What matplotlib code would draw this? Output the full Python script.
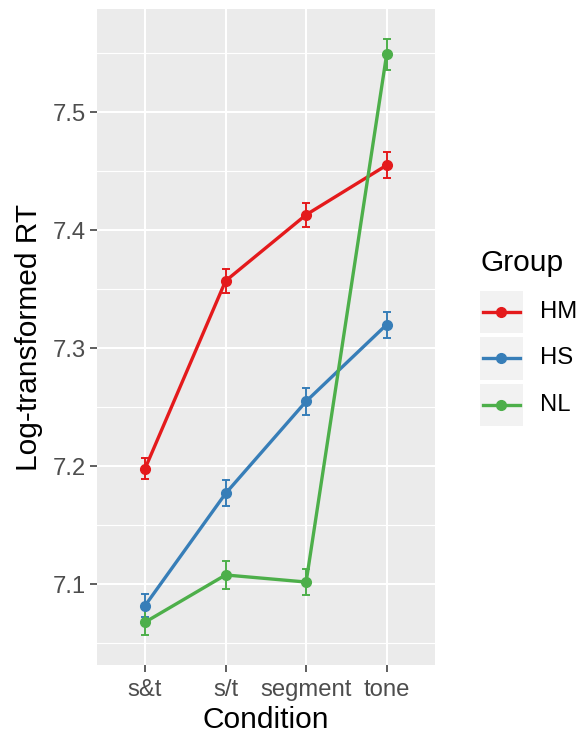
import matplotlib.pyplot as plt
import numpy as np
from matplotlib.patches import Rectangle

plt.rcParams['font.family'] = ['Liberation Sans', 'DejaVu Sans']

conditions = ['s&t', 's/t', 'segment', 'tone']
groups = ['HM', 'HS', 'NL']
colors = ['#E41A1C', '#377EB8', '#4DAF4A']

# mean log RT and standard error per group, one value per condition
hm_mean = [7.198, 7.357, 7.413, 7.455]
hm_se = [0.009, 0.010, 0.010, 0.011]
hs_mean = [7.082, 7.177, 7.255, 7.320]
hs_se = [0.010, 0.011, 0.0115, 0.011]
nl_mean = [7.068, 7.108, 7.102, 7.549]
nl_se = [0.011, 0.012, 0.011, 0.013]

means = [hm_mean, hs_mean, nl_mean]
errors = [hm_se, hs_se, nl_se]

W, H = 583, 736
fig = plt.figure(figsize=(W / 100, H / 100), dpi=100)


def box(l, t, r, b):
    # pixel box -> figure fraction
    return [l / W, 1 - b / H, (r - l) / W, (b - t) / H]


ax = fig.add_axes(box(96.7, 9, 435, 665))
ax.set_facecolor('#EBEBEB')
for s in ax.spines.values():
    s.set_visible(False)

x = np.arange(len(conditions))
for name, m, se, c in zip(groups, means, errors, colors):
    ax.plot(x, m, color=c, lw=2.4, zorder=3)
    ax.errorbar(x, m, yerr=se, fmt='none', ecolor=c, elinewidth=1.4,
                capsize=2.6, capthick=1.4, zorder=4)
    ax.plot(x, m, 'o', color=c, ms=7, zorder=5)

# ggplot-style 5% expansion on y, 0.6 on discrete x
lo = min(np.min(np.array(m) - np.array(e)) for m, e in zip(means, errors))
hi = max(np.max(np.array(m) + np.array(e)) for m, e in zip(means, errors))
pad = (hi - lo) * 0.05
ax.set_ylim(lo - pad, hi + pad)
ax.set_xlim(-0.6, len(conditions) - 0.4)

ax.set_xticks(x, conditions)
ax.set_yticks([7.1, 7.2, 7.3, 7.4, 7.5])
ax.set_yticks([7.05, 7.15, 7.25, 7.35, 7.45, 7.55], minor=True)
ax.grid(which='major', color='white', lw=1.5)
ax.grid(which='minor', axis='y', color='white', lw=0.8)
ax.set_axisbelow(True)
ax.tick_params(which='major', length=5, width=1.1, color='#333333',
               labelsize=17.2, labelcolor='#4D4D4D', pad=3)
ax.tick_params(axis='x', pad=5)
ax.tick_params(which='minor', length=0)
ax.set_xlabel('Condition', fontsize=21.5, labelpad=4)
ax.set_ylabel('Log-transformed RT', fontsize=21.5, labelpad=7)

# legend drawn ggplot-style
fig.text(480 / W, 1 - 263 / H, 'Group', fontsize=21.5, ha='left', va='center')
lax = fig.add_axes(box(480, 291, 523, 426))
lax.set_xlim(480, 523)
lax.set_ylim(426, 291)
lax.axis('off')
for i, (name, c) in enumerate(zip(groups, colors)):
    top = 291 + i * 46.3
    lax.add_patch(Rectangle((480, top), 43, 42.5, color='#F2F2F2', lw=0))
    yc = top + 21.2
    lax.plot([482.7, 520], [yc, yc], color=c, lw=2.4)
    lax.plot([501.3], [yc], 'o', color=c, ms=7)
    lax.text(540, yc, name, fontsize=17.2, ha='left', va='center', clip_on=False)

fig.savefig('out.png', dpi=100)
